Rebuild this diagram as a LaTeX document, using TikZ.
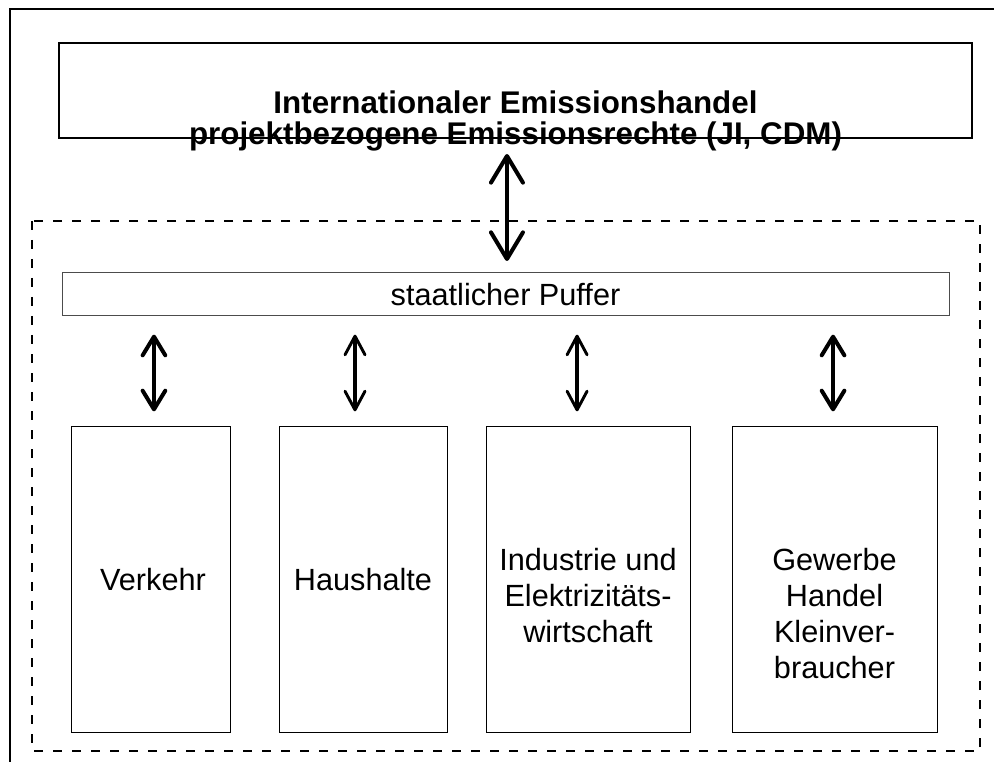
\documentclass[tikz,border=0pt]{standalone}
\usepackage{fontspec}
\setmainfont{Liberation Sans}
\usetikzlibrary{arrows.meta}

\tikzset{every picture/.style={line width=0.75pt}}
\tikzset{
  box/.style={draw, inner sep=0pt, outer sep=0pt},
  sectorbox/.style={box, minimum height=229.5pt},
  sectortext/.style={align=center, inner sep=0pt, font=\fontsize{23}{27}\selectfont},
  thickarr/.style={line width=3.6pt, line cap=round,
    {Straight Barb[length=14pt, width=17pt, line width=3pt, round]}-{Straight Barb[length=14pt, width=17pt, line width=3pt, round]}},
  thinarr/.style={line width=2.5pt, line cap=round,
    {Straight Barb[length=14pt, width=15pt, line width=2.2pt, round]}-{Straight Barb[length=14pt, width=15pt, line width=2.2pt, round]}},
  bigarr/.style={line width=3pt, line cap=round,
    {Straight Barb[length=20pt, width=24pt, line width=3pt, round]}-{Straight Barb[length=20pt, width=24pt, line width=3pt, round]}},
}

\begin{document}
\begin{tikzpicture}[x=0.75pt,y=0.75pt,yscale=-1,xscale=1]
\useasboundingbox (0,0) rectangle (994,762);

%Outer frame
\draw [line width=1.5pt] (10,770) -- (10,9) -- (1000,9) ;
%Dashed frame
\draw [line width=1.5pt, dash pattern=on 6.75pt off 7.5pt] (32,221) rectangle (980,751) ;

%Top box
\node [box, line width=1.5pt, minimum width=684.75pt, minimum height=71.25pt] (intl) at (515.5,90.5) {};
\node [align=center, inner sep=0pt, font=\fontsize{23.5}{23.25}\selectfont\bfseries] (intltext) at (515.5,121)
  {Internationaler Emissionshandel\\projektbezogene Emissionsrechte (JI, CDM)};

%Buffer
\node [box, draw=black!70, minimum width=665.25pt, minimum height=32.25pt] (puffer) at (505.5,294.5) {};
\node [sectortext] (puffertext) at (puffer) {staatlicher Puffer};

%Sectors
\node [sectorbox, minimum width=119.25pt] (vk) at (150.5,579) {};
\node [sectorbox, minimum width=126pt] (hh) at (363,579) {};
\node [sectorbox, minimum width=153pt] (ind) at (588,579) {};
\node [sectorbox, minimum width=153.75pt] (gew) at (834.5,579) {};

% Text Node
\node [sectortext] (vktext) at (153,580) {Verkehr};
% Text Node
\node [sectortext] (hhtext) at (363,580) {Haushalte};
% Text Node
\node [sectortext] (indtext) at (588,596) {Industrie und\\Elektrizitäts-\\wirtschaft};
% Text Node
\node [sectortext] (gewtext) at (834.5,614) {Gewerbe\\Handel\\Kleinver-\\braucher};

%Arrows
\draw [bigarr] ([xshift=-6.4pt,yshift=12pt]intl.south) -- ([xshift=-6.4pt,yshift=-9pt]intl.south |- puffer.north) ;
\draw [thickarr] ([xshift=2.6pt,yshift=14pt]vk.north |- puffer.south) -- ([xshift=2.6pt,yshift=-11pt]vk.north) ;
\draw [thinarr] ([xshift=-6pt,yshift=14pt]hh.north |- puffer.south) -- ([xshift=-6pt,yshift=-11pt]hh.north) ;
\draw [thinarr] ([xshift=-8.2pt,yshift=14pt]ind.north |- puffer.south) -- ([xshift=-8.2pt,yshift=-11pt]ind.north) ;
\draw [thickarr] ([xshift=-1.1pt,yshift=14pt]gew.north |- puffer.south) -- ([xshift=-1.1pt,yshift=-11pt]gew.north) ;

\end{tikzpicture}
\end{document}
